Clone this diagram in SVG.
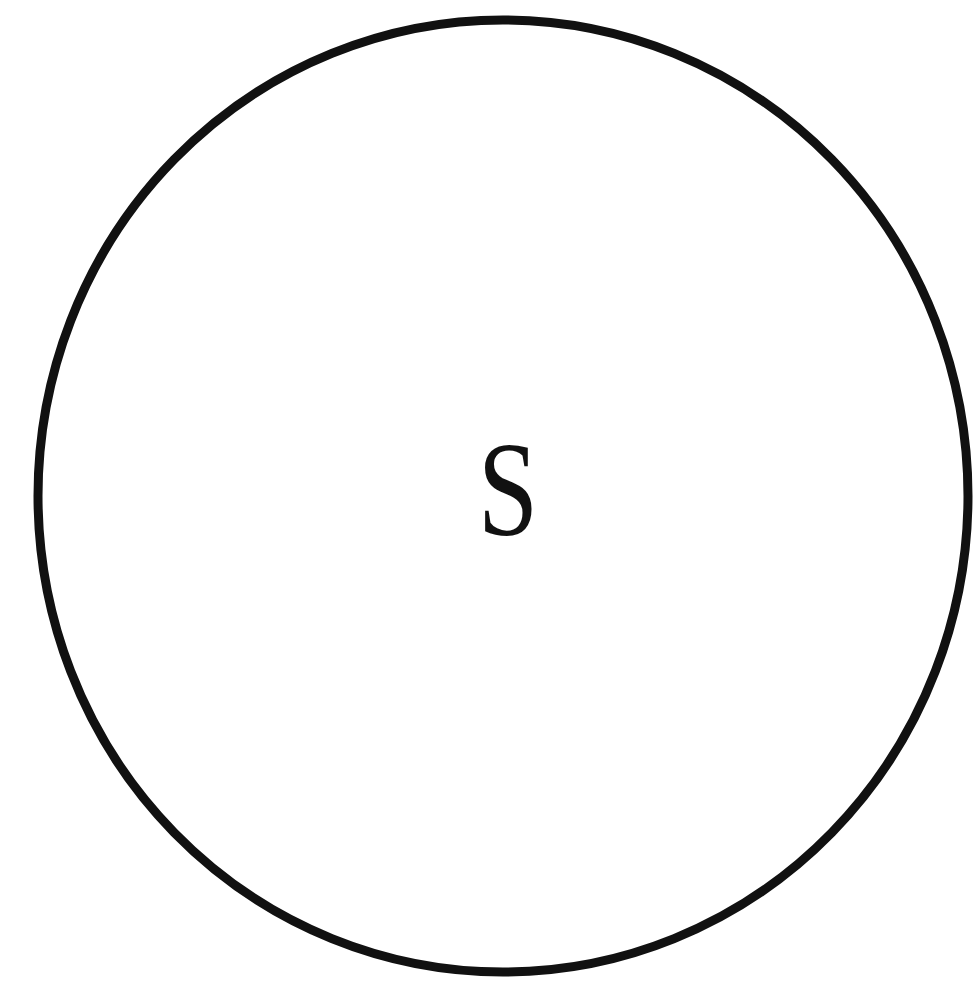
<svg xmlns="http://www.w3.org/2000/svg" width="980" height="989" viewBox="0 0 980 989">
<style>
.ring{fill:none;stroke:#111;stroke-width:9}
.lbl{font-family:"Liberation Serif","DejaVu Serif",serif;font-size:136px;fill:#111;text-anchor:middle}
</style>
<rect width="980" height="989" fill="#fff"/>
<g id="set-S">
<ellipse class="ring" cx="503" cy="496" rx="465" ry="476"/>
<text class="lbl" transform="translate(508,535) scale(0.8,1)" x="0" y="0">S</text>
</g>
</svg>
